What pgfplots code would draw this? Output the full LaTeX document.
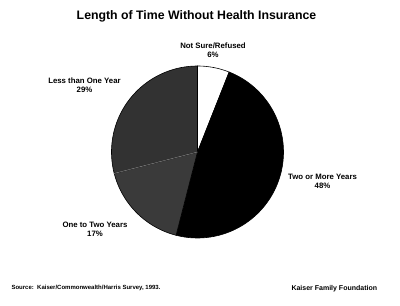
\documentclass[border=0pt]{standalone}
\usepackage{pgfplots}
\usepackage{pgfplotstable}
\pgfplotsset{compat=1.18}
\usepackage{fontspec}
\setmainfont{Liberation Sans}
\definecolor{sliceA}{HTML}{323232}
\definecolor{sliceB}{HTML}{3A3A3A}
\pgfplotstableread{
label pct
NotSure 6
TwoMore 48
OneTwo 17
LessOne 29
}\piedata
\pgfplotstablegetelem{0}{pct}\of\piedata \let\pA\pgfplotsretval
\pgfplotstablegetelem{1}{pct}\of\piedata \let\pB\pgfplotsretval
\pgfplotstablegetelem{2}{pct}\of\piedata \let\pC\pgfplotsretval
\pgfplotstablegetelem{3}{pct}\of\piedata \let\pD\pgfplotsretval
\newcommand{\pieslice}[3]{%
  \pgfmathsetmacro\sa{#1}%
  \pgfmathsetmacro\sb{#1-3.6*#2}%
  \edef\tmp{\noexpand\addplot[fill=#3,draw=black,line width=0.6pt,domain=\sb:\sa,samples=90,variable=\noexpand\t]
    ({197.5+86*cos(\noexpand\t)},{154+86*sin(\noexpand\t)}) -- (axis cs:197.5,154) -- cycle;}%
  \tmp}
\begin{document}
\begin{tikzpicture}
\useasboundingbox (0,0) rectangle (400pt,306pt);
\begin{axis}[
  at={(0,0)}, anchor=south west,
  scale only axis, width=400pt, height=306pt,
  xmin=0, xmax=400, ymin=0, ymax=306,
  hide axis, clip=false]
\pgfmathsetmacro\angA{90}
\pgfmathsetmacro\angB{90-3.6*\pA}
\pgfmathsetmacro\angC{\angB-3.6*\pB}
\pgfmathsetmacro\angD{\angC-3.6*\pC}
\pieslice{\angA}{\pA}{white}
\pieslice{\angB}{\pB}{black}
\pieslice{\angC}{\pC}{sliceB}
\pieslice{\angD}{\pD}{sliceA}
\addplot[gray!70, line width=0.4pt] coordinates {(197.5,154) (114.2,132.6)};
\node[font=\bfseries\fontsize{12.3}{14}\selectfont] at (axis cs:196.5,290) {Length of Time Without Health Insurance};
\node[font=\bfseries\fontsize{7.8}{9.2}\selectfont, align=center] at (axis cs:213,255.5) {Not Sure/Refused\\6\%};
\node[font=\bfseries\fontsize{7.8}{9.2}\selectfont, align=center] at (axis cs:84.5,220.5) {Less than One Year\\29\%};
\node[font=\bfseries\fontsize{7.8}{9.2}\selectfont, align=center] at (axis cs:322.5,124.5) {Two or More Years\\48\%};
\node[font=\bfseries\fontsize{7.8}{9.2}\selectfont, align=center] at (axis cs:95,77) {One to Two Years\\17\%};
\node[font=\bfseries\fontsize{6}{7}\selectfont, anchor=west] at (axis cs:8,18) {Source:\ \ Kaiser/Commonwealth/Harris Survey, 1993.};
\node[font=\bfseries\fontsize{7}{8}\selectfont, anchor=west] at (axis cs:288,17) {Kaiser Family Foundation};
\end{axis}
\end{tikzpicture}
\end{document}
